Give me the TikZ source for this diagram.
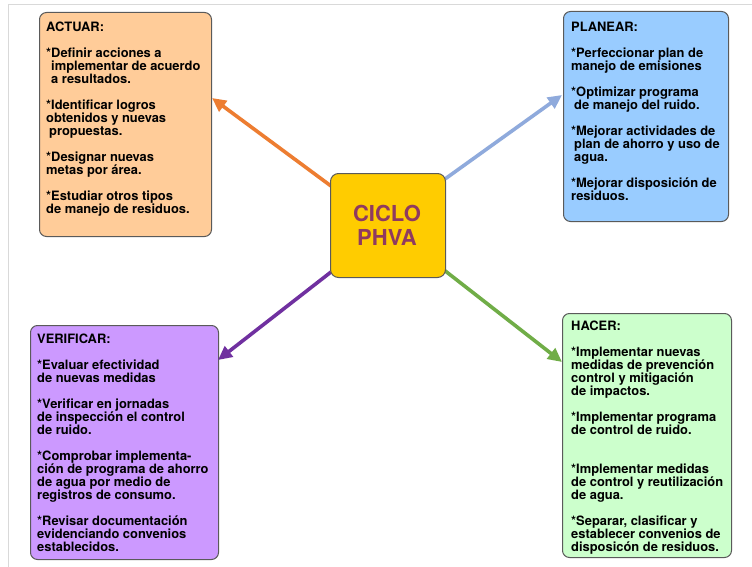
\documentclass[tikz,border=0pt]{standalone}
\usepackage{fontspec}
\setmainfont{TeX Gyre Heros}
\usetikzlibrary{arrows.meta}
\definecolor{actfill}{HTML}{FFCC99}
\definecolor{planfill}{HTML}{99CCFF}
\definecolor{verfill}{HTML}{CC99FF}
\definecolor{hacfill}{HTML}{CCFFCC}
\definecolor{cenfill}{HTML}{FFCC00}
\definecolor{centext}{HTML}{8F3A60}
\definecolor{arrorange}{HTML}{ED7D31}
\definecolor{arrblue}{HTML}{8FAADC}
\definecolor{arrpurple}{HTML}{7030A0}
\definecolor{arrgreen}{HTML}{70AD47}
\definecolor{boxline}{HTML}{5A5A5A}
\definecolor{framegray}{HTML}{D9D9D9}
\begin{document}
\begin{tikzpicture}[x=1pt,y=-1pt,
  panel/.style={draw=boxline, line width=1pt, rounded corners=7pt, anchor=north west, inner sep=0pt},
  paneltext/.style={anchor=north west, inner sep=0pt, align=left, font=\fontsize{12.9}{13}\selectfont\bfseries},
  conn/.style={line width=3.6pt, -{Triangle[length=14pt,width=13pt]}},
]
\useasboundingbox (0,0) rectangle (752,567);
\fill[white] (0,0) rectangle (752,567);
\draw[framegray, line width=1pt] (8,567) -- (8,5) -- (752,5);

% panels
\node[panel, fill=actfill, minimum width=172pt, minimum height=224pt] (actuar) at (39,12) {};
\node[panel, fill=planfill, minimum width=165pt, minimum height=210pt] (planear) at (563,11) {};
\node[panel, fill=verfill, minimum width=188pt, minimum height=234pt] (verificar) at (30,325) {};
\node[panel, fill=hacfill, minimum width=169pt, minimum height=244pt] (hacer) at (562,313) {};

% connector end points
\coordinate (oa) at (331,186);
\coordinate (ta) at (212,98);
\coordinate (op) at (445,179);
\coordinate (tp) at (562,95);
\coordinate (ov) at (331,272);
\coordinate (tv) at (218,360);
\coordinate (oh) at (444,270);
\coordinate (th) at (562,362);
\draw[conn, arrorange] (oa) -- (ta);
\draw[conn, arrblue] (op) -- (tp);
\draw[conn, arrpurple] (ov) -- (tv);
\draw[conn, arrgreen] (oh) -- (th);

% center
\node[panel, fill=cenfill, rounded corners=8pt, minimum width=115pt, minimum height=104pt] (centro) at (330,173) {};
\node[align=center, inner sep=0pt, text=centext, font=\fontsize{22}{24}\selectfont\bfseries] (centrotxt) at (387,225) {CICLO\\PHVA};

% texts
\node[paneltext] (actuartxt) at (46,22) {ACTUAR:\\[13pt]
*Definir acciones a\\
\hspace*{5pt}implementar de acuerdo\\
\hspace*{5pt}a resultados.\\[13pt]
*Identificar logros\\
obtenidos y nuevas\\
\hspace*{3pt}propuestas.\\[13pt]
*Designar nuevas\\
metas por área.\\[13pt]
*Estudiar otros tipos\\
de manejo de residuos.};

\node[paneltext] (planeartxt) at (571,22) {PLANEAR:\\[13pt]
*Perfeccionar plan de\\
manejo de emisiones\\[13pt]
*Optimizar programa\\
\hspace*{3pt}de manejo del ruido.\\[13pt]
*Mejorar actividades de\\
\hspace*{3pt}plan de ahorro y uso de\\
\hspace*{3pt}agua.\\[13pt]
*Mejorar disposición de\\
residuos.};

\node[paneltext] (verificartxt) at (37,334) {VERIFICAR:\\[13pt]
*Evaluar efectividad\\
de nuevas medidas\\[13pt]
*Verificar en jornadas\\
de inspección el control\\
de ruido.\\[13pt]
*Comprobar implementa-\\
ción de programa de ahorro\\
de agua por medio de\\
registros de consumo.\\[13pt]
*Revisar documentación\\
evidenciando convenios\\
establecidos.};

\node[paneltext] (hacertxt) at (571,321) {HACER:\\[13pt]
*Implementar nuevas\\
medidas de prevención\\
control y mitigación\\
de impactos.\\[13pt]
*Implementar programa\\
de control de ruido.\\[26pt]
*Implementar medidas\\
de control y reutilización\\
de agua.\\[13pt]
*Separar, clasificar y\\
establecer convenios de\\
disposicón de residuos.};
\end{tikzpicture}
\end{document}
